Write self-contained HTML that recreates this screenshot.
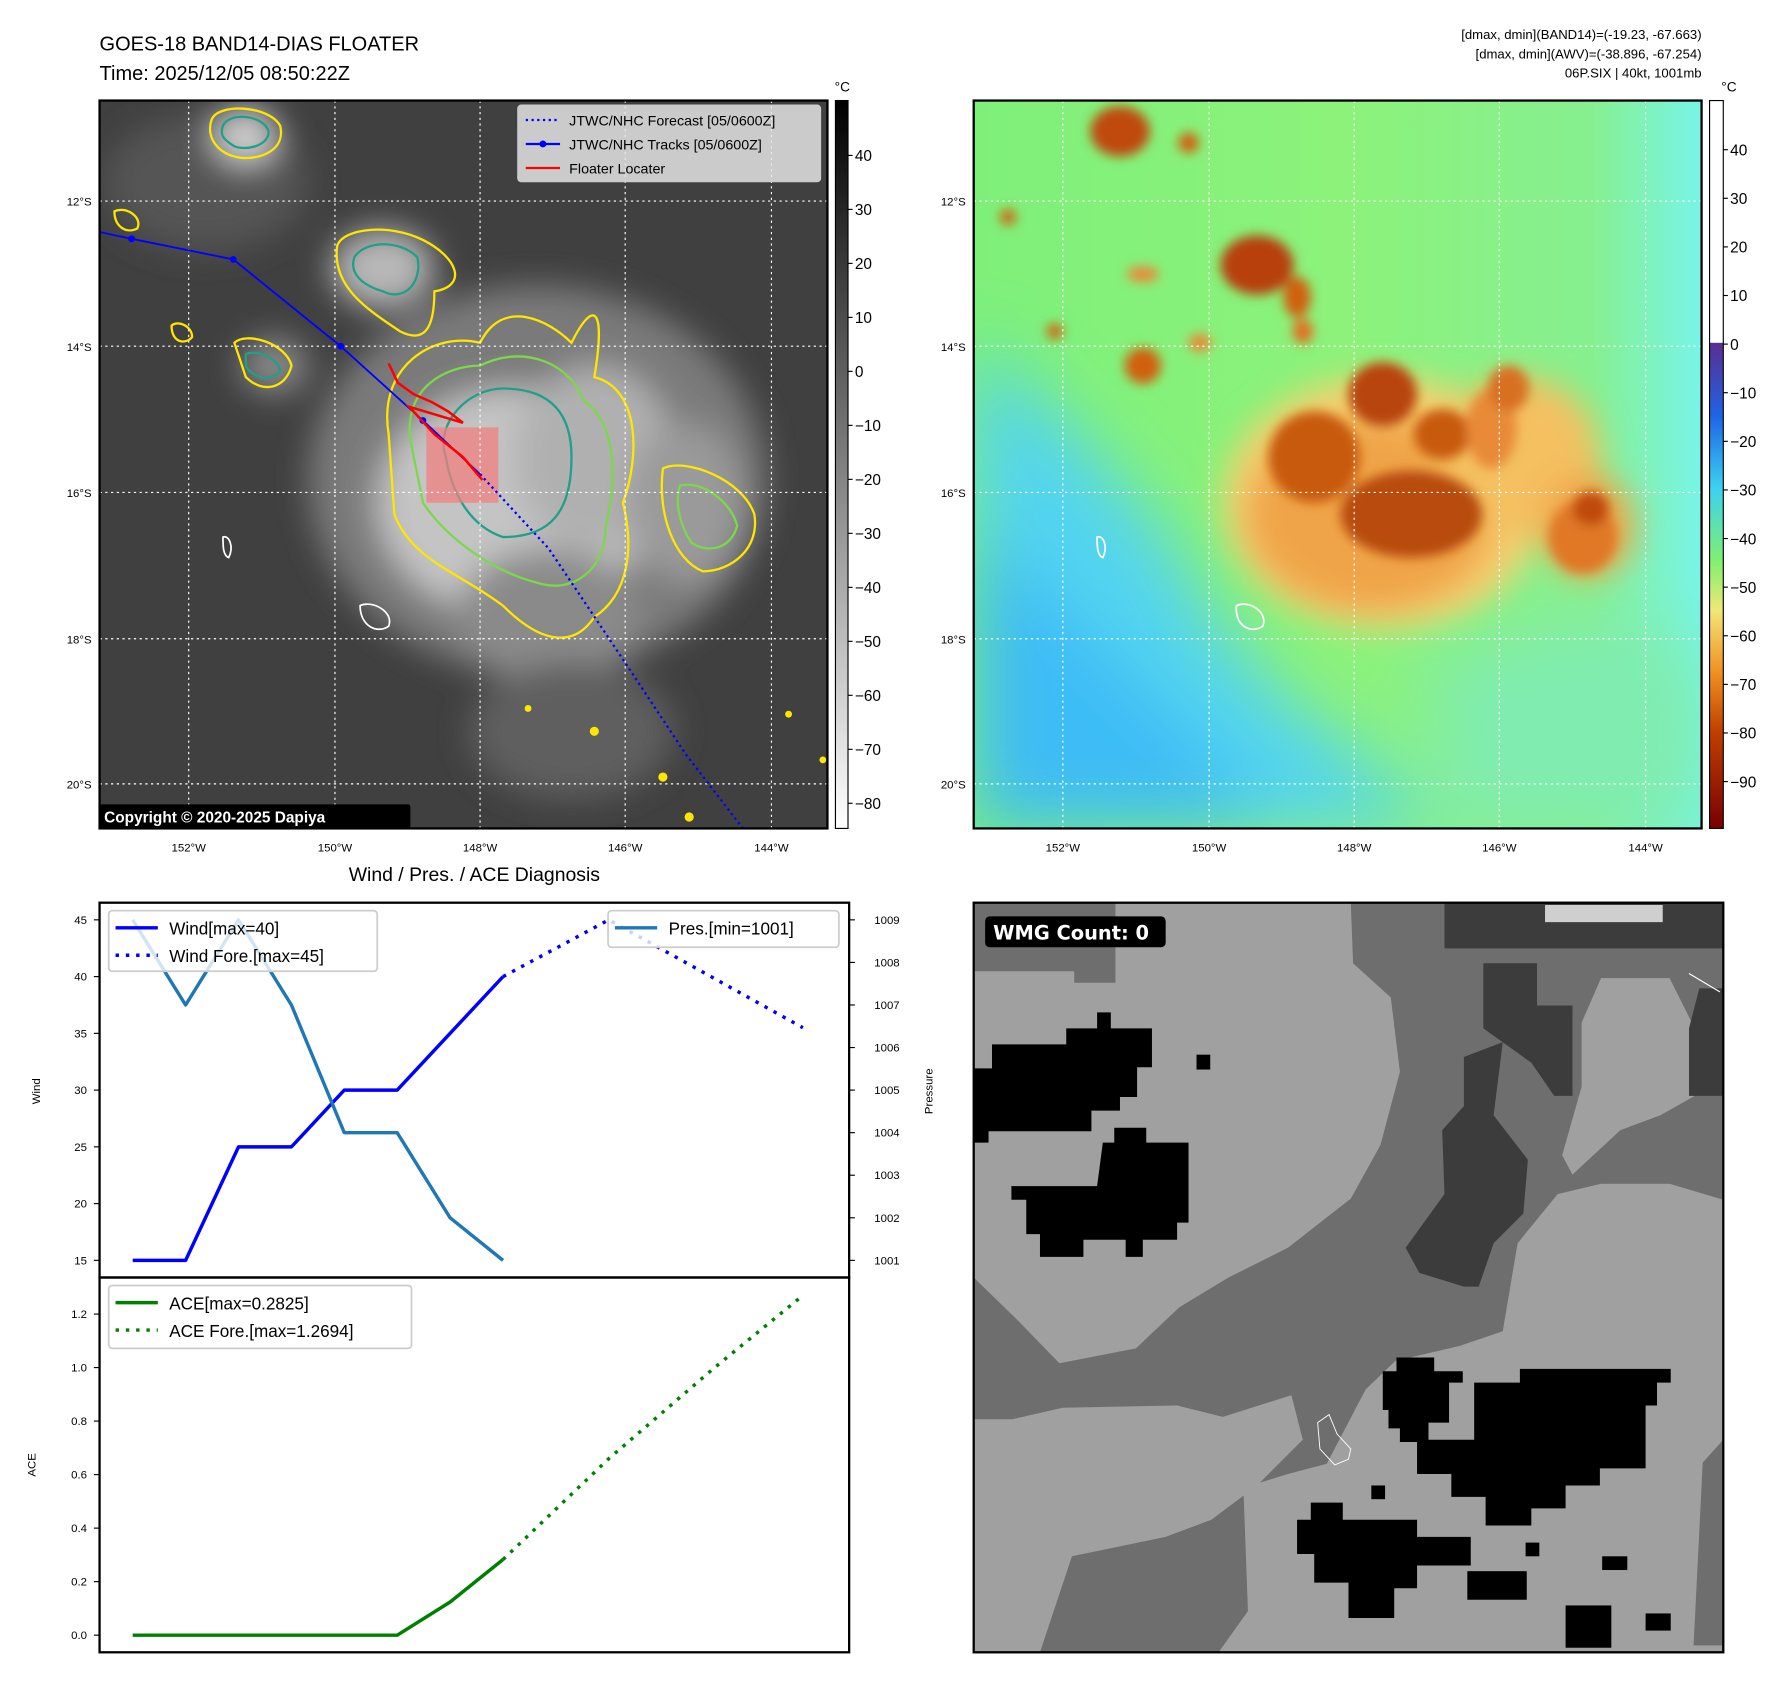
<!DOCTYPE html>
<html><head><meta charset="utf-8">
<style>
html,body{margin:0;padding:0;background:#fff;}
svg{display:block;font-family:"Liberation Sans","DejaVu Sans",sans-serif;}
</style></head>
<body>
<svg id="fig" width="1792" height="1690" viewBox="0 0 1568 1479" xmlns="http://www.w3.org/2000/svg">
<defs>
  <filter id="blur6" x="-50%" y="-50%" width="200%" height="200%"><feGaussianBlur stdDeviation="5"/></filter>
  <filter id="blur14" x="-50%" y="-50%" width="200%" height="200%"><feGaussianBlur stdDeviation="14"/></filter>
  <filter id="blur30" x="-50%" y="-50%" width="200%" height="200%"><feGaussianBlur stdDeviation="30"/></filter>
  <linearGradient id="gcb" x1="0" y1="0" x2="0" y2="1">
    <stop offset="0" stop-color="#000"/><stop offset="1" stop-color="#fff"/>
  </linearGradient>
  <linearGradient id="ccb" x1="0" y1="0" x2="0" y2="1">
    <stop offset="0" stop-color="#5a2d90"/><stop offset="0.15" stop-color="#1e64e6"/>
    <stop offset="0.3" stop-color="#3cd2f0"/><stop offset="0.45" stop-color="#80f070"/>
    <stop offset="0.55" stop-color="#f0e878"/><stop offset="0.68" stop-color="#f09020"/>
    <stop offset="0.8" stop-color="#c04000"/><stop offset="1" stop-color="#780000"/>
  </linearGradient>
  <linearGradient id="rbg" x1="0" y1="0" x2="1" y2="0">
    <stop offset="0" stop-color="#7ef07a"/><stop offset="0.5" stop-color="#8cf27a"/>
    <stop offset="0.85" stop-color="#86f090"/><stop offset="1" stop-color="#78f4e8"/>
  </linearGradient>
  <clipPath id="clipL"><rect x="87" y="88" width="637" height="637"/></clipPath>
  <clipPath id="clipR"><rect x="852" y="88" width="637" height="637"/></clipPath>
  <clipPath id="clipW"><rect x="852" y="790" width="656" height="656"/></clipPath>
</defs>

<text x="87" y="44" font-size="17.5">GOES-18 BAND14-DIAS FLOATER</text>
<text x="87" y="70" font-size="17.5">Time: 2025/12/05 08:50:22Z</text>
<g font-size="11.5" text-anchor="end">
  <text x="1489" y="34">[dmax, dmin](BAND14)=(-19.23, -67.663)</text>
  <text x="1489" y="51">[dmax, dmin](AWV)=(-38.896, -67.254)</text>
  <text x="1489" y="68">06P.SIX | 40kt, 1001mb</text>
</g>

<!-- LEFT MAP -->
<g clip-path="url(#clipL)">
  <rect x="87" y="88" width="637" height="637" fill="#404040"/>
  <g filter="url(#blur14)">
    <ellipse cx="180" cy="160" rx="90" ry="60" fill="#555"/>
    <ellipse cx="470" cy="420" rx="200" ry="170" fill="#7a7a7a"/>
    <ellipse cx="450" cy="440" rx="120" ry="100" fill="#c4c4c4"/>
    <ellipse cx="520" cy="400" rx="70" ry="80" fill="#b0b0b0"/>
    <ellipse cx="600" cy="440" rx="50" ry="70" fill="#9a9a9a"/>
    <ellipse cx="480" cy="540" rx="80" ry="60" fill="#8a8a8a"/>
    <ellipse cx="335" cy="235" rx="45" ry="35" fill="#b8b8b8"/>
    <ellipse cx="215" cy="118" rx="28" ry="25" fill="#d0d0d0"/>
    <ellipse cx="500" cy="640" rx="90" ry="60" fill="#5e5e5e"/>
    <ellipse cx="240" cy="320" rx="30" ry="25" fill="#888"/>
  </g>
  <g fill="none" stroke-width="2">
    <path d="M340,380 C330,320 380,290 420,300 C440,260 480,280 500,300 C520,260 530,270 520,330 C560,340 560,400 545,440 C555,480 550,520 520,540 C500,570 470,560 440,530 C400,500 360,490 345,450 Z" stroke="#ffe600"/>
    <path d="M360,390 C350,340 390,320 420,320 C460,300 500,320 510,350 C540,370 540,420 530,460 C530,500 500,520 470,510 C430,500 390,470 370,440 Z" stroke="#7cd84a"/>
    <path d="M390,400 C380,370 410,340 440,340 C480,340 500,360 500,400 C500,450 480,470 440,470 C410,460 395,430 390,400 Z" stroke="#1fa088"/>
    <path d="M295,215 C300,200 340,195 370,210 C400,225 410,250 380,255 C380,290 370,300 350,290 C320,270 290,250 295,215Z" stroke="#ffe600"/>
    <path d="M310,225 C320,210 350,210 365,225 C370,245 355,265 335,255 C318,250 305,240 310,225Z" stroke="#1fa088"/>
    <path d="M185,105 C190,90 235,92 245,110 C250,130 230,140 210,138 C190,135 180,120 185,105Z" stroke="#ffe600"/>
    <path d="M195,110 C200,98 230,100 235,115 C235,128 215,132 205,128 C195,122 192,118 195,110Z" stroke="#1fa088"/>
    <path d="M205,300 C215,290 250,300 255,320 C250,340 230,345 215,330Z" stroke="#ffe600"/>
    <path d="M215,310 C225,305 245,315 245,325 C235,335 220,330 215,320Z" stroke="#1fa088"/>
    <path d="M580,410 C600,400 650,420 660,450 C665,480 640,500 615,500 C590,490 575,450 580,410Z" stroke="#ffe600"/>
    <path d="M595,425 C615,420 640,440 645,460 C640,480 620,485 605,475 C595,460 590,440 595,425Z" stroke="#7cd84a"/>
    <path d="M150,285 C155,280 168,285 168,295 C162,302 150,300 150,285Z" stroke="#ffe600"/>
    <path d="M100,185 C110,180 125,190 120,200 C110,205 100,198 100,185Z" stroke="#ffe600"/>
    <path d="M315,530 C325,525 345,535 340,548 C330,555 315,548 315,530Z" stroke="#fff" stroke-width="1.5"/>
    <path d="M195,470 C200,468 205,478 200,488 C195,486 195,478 195,470Z" stroke="#fff" stroke-width="1.5"/>
  </g>
  <g fill="#ffe600">
    <circle cx="580" cy="680" r="4"/><circle cx="462" cy="620" r="3"/><circle cx="520" cy="640" r="4"/>
    <circle cx="603" cy="715" r="4"/><circle cx="690" cy="625" r="3"/><circle cx="720" cy="665" r="3"/>
  </g>
  <rect x="373" y="374" width="63" height="66" fill="#f08080" opacity="0.75"/>
  <g stroke="#fff" stroke-width="1" stroke-dasharray="2,3">
    <line x1="165" y1="88" x2="165" y2="725"/><line x1="293" y1="88" x2="293" y2="725"/>
    <line x1="420" y1="88" x2="420" y2="725"/><line x1="547" y1="88" x2="547" y2="725"/>
    <line x1="675" y1="88" x2="675" y2="725"/>
    <line x1="87" y1="176" x2="724" y2="176"/><line x1="87" y1="303" x2="724" y2="303"/>
    <line x1="87" y1="431" x2="724" y2="431"/><line x1="87" y1="559" x2="724" y2="559"/>
    <line x1="87" y1="686" x2="724" y2="686"/>
  </g>
  <polyline points="420,415 480,480 547,580 600,660 650,725" fill="none" stroke="#0000ff" stroke-width="2" stroke-dasharray="2,3"/>
  <polyline points="87,203 115,209 204,227 298,303 370,368 420,415" fill="none" stroke="#0000ff" stroke-width="1.6"/>
  <g fill="#0000ff"><circle cx="115" cy="209" r="3"/><circle cx="204" cy="227" r="3"/><circle cx="298" cy="303" r="3"/><circle cx="370" cy="368" r="3"/></g>
  <polyline points="340,318 348,335 362,345 378,352 392,360 405,370 358,356 380,380 405,400 422,420" fill="none" stroke="#ff0000" stroke-width="2.2"/>
  <g>
    <rect x="453" y="92" width="265" height="67" rx="3" fill="#e4e4e4" fill-opacity="0.85" stroke="#ccc"/>
    <line x1="460" y1="105" x2="490" y2="105" stroke="#0000ff" stroke-width="2" stroke-dasharray="2,3"/>
    <line x1="460" y1="126" x2="490" y2="126" stroke="#0000ff" stroke-width="2"/><circle cx="475" cy="126" r="3" fill="#0000ff"/>
    <line x1="460" y1="147" x2="490" y2="147" stroke="#ff0000" stroke-width="2"/>
    <g font-size="12.5"><text x="498" y="110">JTWC/NHC Forecast [05/0600Z]</text><text x="498" y="131">JTWC/NHC Tracks [05/0600Z]</text><text x="498" y="152">Floater Locater</text></g>
  </g>
  <rect x="87" y="704" width="272" height="21" rx="2" fill="#000"/>
  <text x="91" y="720" font-size="13.5" font-weight="bold" fill="#fff">Copyright © 2020-2025 Dapiya</text>
</g>
<rect x="87" y="88" width="637" height="637" fill="none" stroke="#000" stroke-width="2"/>
<g font-size="10" text-anchor="end">
  <text x="80" y="180">12°S</text><text x="80" y="307">14°S</text><text x="80" y="435">16°S</text><text x="80" y="563">18°S</text><text x="80" y="690">20°S</text>
</g>
<g font-size="10" text-anchor="middle">
  <text x="165" y="745">152°W</text><text x="293" y="745">150°W</text><text x="420" y="745">148°W</text><text x="547" y="745">146°W</text><text x="675" y="745">144°W</text>
</g>
<g>
  <rect x="731" y="88" width="11" height="637" fill="url(#gcb)" stroke="#000" stroke-width="1"/>
  <text x="737" y="80" font-size="12" text-anchor="middle">°C</text>
  <g font-size="13.5" id="lcbt"></g>
</g>

<!-- RIGHT MAP -->
<g clip-path="url(#clipR)">
  <rect x="852" y="88" width="637" height="637" fill="url(#rbg)"/>
  <g filter="url(#blur30)">
    <path d="M852,300 L900,340 L960,400 L1020,470 L1060,540 L1120,610 L1200,670 L1260,725 L852,725 Z" fill="#52d4f0"/>
    <path d="M852,460 L920,520 L990,590 L1060,660 L1110,725 L852,725 Z" fill="#3cbcf6"/>
    <path d="M1250,580 L1400,540 L1489,570 L1489,725 L1270,725 Z" fill="#80ecb0"/>
  </g>
  <g filter="url(#blur14)">
    <ellipse cx="1210" cy="440" rx="140" ry="110" fill="#f8d070"/>
    <ellipse cx="1200" cy="450" rx="110" ry="85" fill="#f0a448"/>
    <ellipse cx="1330" cy="400" rx="70" ry="70" fill="#f4c060"/>
    <ellipse cx="1390" cy="460" rx="40" ry="45" fill="#f0a448"/>
  </g>
  <g filter="url(#blur6)">
    <ellipse cx="1150" cy="400" rx="40" ry="40" fill="#c85a10"/>
    <ellipse cx="1235" cy="450" rx="62" ry="38" fill="#b84c0c"/>
    <ellipse cx="1210" cy="345" rx="30" ry="28" fill="#b84408"/>
    <ellipse cx="1262" cy="380" rx="25" ry="22" fill="#c85a10"/>
    <ellipse cx="1385" cy="470" rx="30" ry="32" fill="#e07828"/>
    <ellipse cx="1392" cy="445" rx="16" ry="15" fill="#c04808"/>
    <ellipse cx="1305" cy="375" rx="22" ry="35" fill="#e88a38"/>
    <ellipse cx="1320" cy="340" rx="18" ry="20" fill="#d87020"/>
    <ellipse cx="980" cy="115" rx="26" ry="22" fill="#c04a08"/>
    <ellipse cx="1100" cy="232" rx="32" ry="26" fill="#b84008"/>
    <ellipse cx="1135" cy="260" rx="12" ry="18" fill="#d06010"/>
    <ellipse cx="1140" cy="290" rx="9" ry="11" fill="#e07020"/>
    <ellipse cx="1000" cy="320" rx="16" ry="16" fill="#d06010"/>
    <ellipse cx="1040" cy="125" rx="9" ry="9" fill="#d06010"/>
    <ellipse cx="882" cy="190" rx="7" ry="7" fill="#d06010"/>
    <ellipse cx="923" cy="290" rx="7" ry="7" fill="#d06010"/>
    <ellipse cx="1000" cy="240" rx="14" ry="7" fill="#e88a38"/>
    <ellipse cx="1050" cy="300" rx="10" ry="8" fill="#e88a38"/>
  </g>
  <g stroke="#fff" stroke-width="1" stroke-dasharray="2,3">
    <line x1="930" y1="88" x2="930" y2="725"/><line x1="1058" y1="88" x2="1058" y2="725"/>
    <line x1="1185" y1="88" x2="1185" y2="725"/><line x1="1312" y1="88" x2="1312" y2="725"/>
    <line x1="1440" y1="88" x2="1440" y2="725"/>
    <line x1="852" y1="176" x2="1489" y2="176"/><line x1="852" y1="303" x2="1489" y2="303"/>
    <line x1="852" y1="431" x2="1489" y2="431"/><line x1="852" y1="559" x2="1489" y2="559"/>
    <line x1="852" y1="686" x2="1489" y2="686"/>
  </g>
  <path d="M1082,530 C1092,525 1110,535 1105,548 C1095,555 1080,548 1082,530Z" fill="none" stroke="#fff" stroke-width="1.5"/>
  <path d="M960,470 C965,468 970,478 965,488 C960,486 960,478 960,470Z" fill="none" stroke="#fff" stroke-width="1.5"/>
</g>
<rect x="852" y="88" width="637" height="637" fill="none" stroke="#000" stroke-width="2"/>
<g font-size="10" text-anchor="end">
  <text x="845" y="180">12°S</text><text x="845" y="307">14°S</text><text x="845" y="435">16°S</text><text x="845" y="563">18°S</text><text x="845" y="690">20°S</text>
</g>
<g font-size="10" text-anchor="middle">
  <text x="930" y="745">152°W</text><text x="1058" y="745">150°W</text><text x="1185" y="745">148°W</text><text x="1312" y="745">146°W</text><text x="1440" y="745">144°W</text>
</g>
<g>
  <rect x="1496" y="88" width="12" height="212" fill="#fff"/>
  <rect x="1496" y="300" width="12" height="425" fill="url(#ccb)"/>
  <rect x="1496" y="88" width="12" height="637" fill="none" stroke="#000" stroke-width="1"/>
  <text x="1513" y="80" font-size="12" text-anchor="middle">°C</text>
  <g font-size="13.5" id="rcbt"></g>
</g>

<text x="415" y="771" font-size="17" text-anchor="middle">Wind / Pres. / ACE Diagnosis</text>
<g id="charts"></g>
<rect x="87" y="790" width="656" height="328" fill="none" stroke="#000" stroke-width="2"/>
<rect x="87" y="1118" width="656" height="328" fill="none" stroke="#000" stroke-width="2"/>
<text transform="translate(35,955) rotate(-90)" font-size="10" text-anchor="middle">Wind</text>
<text transform="translate(816,955) rotate(-90)" font-size="10" text-anchor="middle">Pressure</text>
<text transform="translate(31,1282) rotate(-90)" font-size="10" text-anchor="middle">ACE</text>

<!-- WMG PANEL -->
<g clip-path="url(#clipW)">
  <rect x="852" y="790" width="656" height="656" fill="#a0a0a0"/>
  <path d="M852,1118 L891,1156 L927,1193 L994,1180 L1032,1144 L1075,1118 L1127,1092 L1182,1049 L1208,1002 L1225,938 L1217,873 L1184,843 L1182,790 L1508,790 L1508,1050 L1461,1036 L1401,1036 L1363,1045 L1328,1088 L1315,1165 L1277,1178 L1221,1191 L1195,1216 L1161,1281 L1127,1290 L1088,1302 L1092,1410 L1062,1452 L852,1452 Z" fill="#6e6e6e"/>
  <path d="M852,1242 L886,1242 L930,1232 L1030,1230 L1070,1240 L1130,1221 L1140,1260 L1100,1300 L1060,1330 L1020,1345 L938,1362 L908,1452 L852,1452 Z" fill="#a0a0a0"/>
  <path d="M1384,895 L1401,856 L1461,856 L1487,908 L1483,959 L1453,976 L1418,989 L1376,1028 L1367,1011 L1384,951 Z" fill="#a0a0a0"/>
  <path d="M852,790 L976,790 L976,860 L940,860 L940,850 L852,850 Z" fill="#6e6e6e"/>
  <rect x="1264" y="790" width="244" height="40" fill="#3c3c3c"/>
  <rect x="1352" y="792" width="103" height="15" fill="#cfcfcf"/>
  <path d="M1298,843 L1345,843 L1345,880 L1376,880 L1376,959 L1360,959 L1340,930 L1298,900 Z" fill="#3c3c3c"/>
  <path d="M1281,925 L1315,912 L1307,976 L1337,1015 L1333,1062 L1307,1088 L1294,1126 L1281,1126 L1242,1114 L1230,1092 L1264,1045 L1262,989 L1281,968 Z" fill="#3c3c3c"/>
  <path d="M1487,865 L1508,865 L1508,959 L1478,959 L1478,900 Z" fill="#3c3c3c"/>
  <path d="M1490,1280 L1508,1260 L1508,1440 L1482,1440 Z" fill="#6e6e6e"/>
  <g fill="#000">
    <path d="M852,935 L868,935 L868,914 L933,914 L933,900 L960,900 L960,886 L972,886 L972,900 L1008,900 L1008,934 L995,934 L995,960 L980,960 L980,972 L955,972 L955,990 L865,990 L865,1000 L852,1000 Z"/>
    <path d="M965,1000 L975,1000 L975,987 L1003,987 L1003,1000 L1040,1000 L1040,1070 L1030,1070 L1030,1085 L1000,1085 L1000,1100 L985,1100 L985,1085 L948,1085 L948,1100 L910,1100 L910,1080 L898,1080 L898,1050 L885,1050 L885,1038 L960,1038 Z"/>
    <rect x="1047" y="923" width="12" height="13"/>
    <path d="M1210,1200 L1222,1200 L1222,1188 L1255,1188 L1255,1200 L1280,1200 L1280,1210 L1268,1210 L1268,1245 L1250,1245 L1250,1262 L1225,1262 L1225,1250 L1215,1250 L1215,1234 L1210,1234 Z"/>
    <path d="M1290,1210 L1330,1210 L1330,1198 L1462,1198 L1462,1210 L1450,1210 L1450,1230 L1440,1230 L1440,1285 L1400,1285 L1400,1300 L1370,1300 L1370,1320 L1340,1320 L1340,1335 L1300,1335 L1300,1310 L1270,1310 L1270,1290 L1240,1290 L1240,1260 L1290,1260 Z"/>
    <path d="M1135,1330 L1147,1330 L1147,1315 L1175,1315 L1175,1330 L1240,1330 L1240,1345 L1287,1345 L1287,1370 L1240,1370 L1240,1390 L1220,1390 L1220,1416 L1180,1416 L1180,1385 L1150,1385 L1150,1360 L1135,1360 Z"/>
    <rect x="1284" y="1375" width="52" height="25"/><rect x="1370" y="1405" width="40" height="37"/>
    <rect x="1335" y="1350" width="12" height="12"/><rect x="1200" y="1300" width="12" height="12"/>
    <rect x="1402" y="1362" width="22" height="12"/><rect x="1440" y="1412" width="22" height="15"/>
  </g>
  <path d="M1153,1245 L1163,1238 L1170,1255 L1182,1268 L1180,1277 L1168,1282 L1155,1268 Z" fill="none" stroke="#fff" stroke-width="0.8"/>
  <path d="M1478,852 L1505,868" stroke="#fff" stroke-width="1"/>
  <rect x="862" y="802" width="158" height="27" rx="4" fill="#000"/>
  <text x="869" y="822" font-size="17" font-weight="bold" fill="#fff" font-family="DejaVu Sans, sans-serif">WMG Count: 0</text>
</g>
<rect x="852" y="790" width="656" height="656" fill="none" stroke="#000" stroke-width="2"/>

<script>
// ===== data =====
const histHours = [0, 6, 12, 18, 24, 30, 36, 42];
const windHist = [15, 15, 25, 25, 30, 30, 35, 40];
const presHist = [1009, 1007, 1009, 1007, 1004, 1004, 1002, 1001];
const aceHist = [0, 0, 0, 0, 0, 0, 0.124, 0.2825];
const foreHours = [42, 54, 76];
const windFore = [40, 45, 35.5];
const aceForeHours = [42, 54, 66, 76];
const aceFore = [0.2825, 0.66, 1.0, 1.2694];
const windTicks = [15, 20, 25, 30, 35, 40, 45];
const presTicks = [1001, 1002, 1003, 1004, 1005, 1006, 1007, 1008, 1009];
const aceTicks = [0.0, 0.2, 0.4, 0.6, 0.8, 1.0, 1.2];
const irCbTicks = [40, 30, 20, 10, 0, -10, -20, -30, -40, -50, -60, -70, -80];
const awvCbTicks = [40, 30, 20, 10, 0, -10, -20, -30, -40, -50, -60, -70, -80, -90];

const NS = 'http://www.w3.org/2000/svg';
function mk(tag, attrs, parent) {
  const e = document.createElementNS(NS, tag);
  for (const k in attrs) e.setAttribute(k, attrs[k]);
  parent.appendChild(e);
  return e;
}
const xH = h => 116 + h * (46.3 / 6);
const yWind = v => 1103 - (v - 15) * (298 / 30);
const yPres = v => 1103 - (v - 1001) * (298 / 8);
const yAce = v => 1431 - v * (281 / 1.2);
const yIr = v => 136 + (40 - v) * (567 / 120);
const yAwv = v => 131 + (40 - v) * (553 / 130);
const fmtTxt = v => (v < 0 ? '\u2212' + Math.abs(v) : '' + v);

const lc = document.getElementById('lcbt');
irCbTicks.forEach(v => {
  const y = yIr(v);
  const l = mk('line', {x1: 742, x2: 746, y1: y, y2: y, stroke: '#000'}, lc);
  
  
  const t = mk('text', {x: 748, y: y + 5}, lc);
  t.textContent = fmtTxt(v);
  
  
});
const rc = document.getElementById('rcbt');
awvCbTicks.forEach(v => {
  const y = yAwv(v);
  const l = mk('line', {x1: 1508, x2: 1512, y1: y, y2: y, stroke: '#000'}, rc);
  
  
  const t = mk('text', {x: 1514, y: y + 5}, rc);
  t.textContent = fmtTxt(v);
  
  
});

const ch = document.getElementById('charts');
function ticks(arr, yf, side, fmt, name) {
  arr.forEach(v => {
    const y = yf(v);
    const x0 = side === 'L' ? 87 : 743;
    const x1 = side === 'L' ? 82 : 748;
    const l = mk('line', {x1: x0, x2: x1, y1: y, y2: y, stroke: '#000', 'stroke-width': 1}, ch);
    
    
    const t = mk('text', {x: side === 'L' ? 76 : 765, y: y + 3.5, 'font-size': 10, 'text-anchor': side === 'L' ? 'end' : 'start'}, ch);
    t.textContent = fmt(v);
    
    
  });
}
ticks(windTicks, yWind, 'L', v => '' + v, 'wind-axis');
ticks(presTicks, yPres, 'R', v => '' + v, 'pressure-axis');
ticks(aceTicks, yAce, 'L', v => v.toFixed(1), 'ace-axis');

function line(xs, ys, xf, yf, color, dash, name, w) {
  const pts = xs.map((h, i) => xf(h).toFixed(1) + ',' + yf(ys[i]).toFixed(1)).join(' ');
  const attrs = {points: pts, fill: 'none', stroke: color, 'stroke-width': w || 3, 'stroke-linejoin': 'round'};
  if (dash) attrs['stroke-dasharray'] = dash;
  const p = mk('polyline', attrs, ch);
  
  
}
line(histHours, windHist, xH, yWind, '#0000ff', null, 'wind-line');
line(foreHours, windFore, xH, yWind, '#0000ff', '3,6', 'wind-forecast-line');
line(histHours, presHist, xH, yPres, '#1f77b4', null, 'pressure-line');
line(histHours, aceHist, xH, yAce, '#008000', null, 'ace-line');
line(aceForeHours, aceFore, xH, yAce, '#008000', '3,6', 'ace-forecast-line');

function legend(x, y, w, h, items, name) {
  const g = mk('g', {}, ch);
  
  
  mk('rect', {x: x, y: y, width: w, height: h, rx: 3, fill: '#fff', 'fill-opacity': 0.8, stroke: '#ccc', 'stroke-width': 1.5}, g);
  items.forEach((it, i) => {
    const yy = y + 15 + i * 24;
    const a = {x1: x + 6, x2: x + 43, y1: yy, y2: yy, stroke: it[1], 'stroke-width': 3};
    if (it[2]) a['stroke-dasharray'] = '3,6';
    mk('line', a, g);
    const t = mk('text', {x: x + 53, y: yy + 6, 'font-size': 15}, g);
    t.textContent = it[0];
  });
}
legend(95, 797, 235, 53, [['Wind[max=40]', '#0000ff', false], ['Wind Fore.[max=45]', '#0000ff', true]], 'wind-legend');
legend(532, 797, 202, 32, [['Pres.[min=1001]', '#1f77b4', false]], 'pressure-legend');
legend(95, 1125, 265, 55, [['ACE[max=0.2825]', '#008000', false], ['ACE Fore.[max=1.2694]', '#008000', true]], 'ace-legend');
</script>
</svg>
</body></html>
